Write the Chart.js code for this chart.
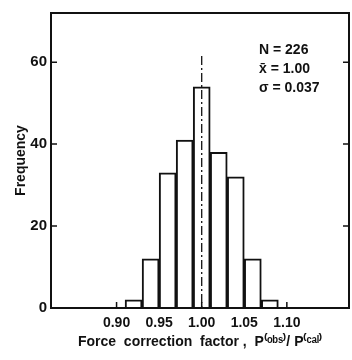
<!DOCTYPE html>
<html>
<head>
<meta charset="utf-8">
<script src="https://cdn.jsdelivr.net/npm/chart.js@4.4.1/dist/chart.umd.min.js"></script>
<style>
  html, body { margin: 0; padding: 0; background: #fff; }
  #wrap { width: 352px; height: 360px; }
</style>
</head>
<body>
<div id="wrap"><canvas id="histo"></canvas></div>
<script>
// histogram bins (centre of each 0.02 wide bin) and counts
const binCenters = [0.92, 0.94, 0.96, 0.98, 1.00, 1.02, 1.04, 1.06, 1.08];
const counts = [2, 12, 33, 41, 54, 38, 32, 12, 2];
const xTicks = [0.90, 0.95, 1.00, 1.05, 1.10];
const yTicks = [0, 20, 40, 60];
const statsText = ['N = 226', 'x\u0304 = 1.00', '\u03C3 = 0.037'];
const meanValue = 1.00;
const meanLineTop = 61.5;

const ink = '#111';
const font = 'Liberation Sans, Arial, sans-serif';

Chart.defaults.font.family = font;
Chart.defaults.font.weight = 'bold';
Chart.defaults.color = ink;

// frame, inward ticks, mean line and the stats box
const decor = {
    id: 'decor',
    afterDatasetsDraw(chart) {
        const { ctx, chartArea: a, scales: { x, y } } = chart;
        ctx.save();
        ctx.strokeStyle = ink;
        ctx.lineWidth = 2;
        ctx.strokeRect(a.left, a.top, a.right - a.left, a.bottom - a.top);

        ctx.lineWidth = 1.5;
        ctx.beginPath();
        yTicks.slice(1).forEach(v => {
            const py = y.getPixelForValue(v);
            ctx.moveTo(a.left, py); ctx.lineTo(a.left + 6, py);
            ctx.moveTo(a.right, py); ctx.lineTo(a.right - 6, py);
        });
        xTicks.forEach(v => {
            const px = x.getPixelForValue(v);
            ctx.moveTo(px, a.bottom); ctx.lineTo(px, a.bottom - 6);
        });
        ctx.stroke();

        const mx = x.getPixelForValue(meanValue);
        ctx.lineWidth = 1.3;
        ctx.setLineDash([9, 3, 2, 3]);
        ctx.beginPath();
        ctx.moveTo(mx, y.getPixelForValue(meanLineTop));
        ctx.lineTo(mx, a.bottom);
        ctx.stroke();
        ctx.setLineDash([]);

        ctx.fillStyle = ink;
        ctx.font = 'bold 14px ' + font;
        ctx.textBaseline = 'middle';
        statsText.forEach((t, i) => ctx.fillText(t, 259, 50 + i * 19));
        ctx.restore();
    }
};

new Chart(document.getElementById('histo'), {
    type: 'bar',
    data: {
        datasets: [{
            data: binCenters.map((c, i) => ({ x: c, y: counts[i] })),
            backgroundColor: '#fff',
            borderColor: ink,
            borderWidth: 2,
            barPercentage: 1,
            categoryPercentage: 1,
        }]
    },
    options: {
        responsive: true,
        maintainAspectRatio: false,
        animation: false,
        layout: { padding: { top: 7, right: 3, left: 0, bottom: 0 } },
        plugins: { legend: { display: false }, tooltip: { enabled: false } },
        scales: {
            x: {
                type: 'linear',
                min: 0.858,
                max: 1.138,
                afterBuildTicks: s => { s.ticks = xTicks.map(v => ({ value: v })); },
                afterFit: s => { s.height = 52; },
                grid: { display: false, drawTicks: false },
                border: { display: false },
                ticks: {
                    padding: 7,
                    font: { size: 14, weight: 'bold' },
                    callback: v => v.toFixed(2)
                },
                title: {
                    display: true,
                    text: 'Force  correction  factor ,  P\u207D\u1D52\u1D47\u02E2\u207E/ P\u207D\u1D9C\u1D43\u02E1\u207E',
                    font: { size: 14, weight: 'bold' },
                    padding: { top: 9, bottom: 9 }
                }
            },
            y: {
                min: 0,
                max: 72,
                afterBuildTicks: s => { s.ticks = yTicks.map(v => ({ value: v })); },
                afterFit: s => { s.width = 51; },
                grid: { display: false, drawTicks: false },
                border: { display: false },
                ticks: { padding: 4, font: { size: 15, weight: 'bold' } },
                title: {
                    display: true,
                    text: 'Frequency',
                    font: { size: 14, weight: 'bold' },
                    padding: { top: 13, bottom: 0 }
                }
            }
        }
    },
    plugins: [decor]
});
</script>
</body>
</html>
